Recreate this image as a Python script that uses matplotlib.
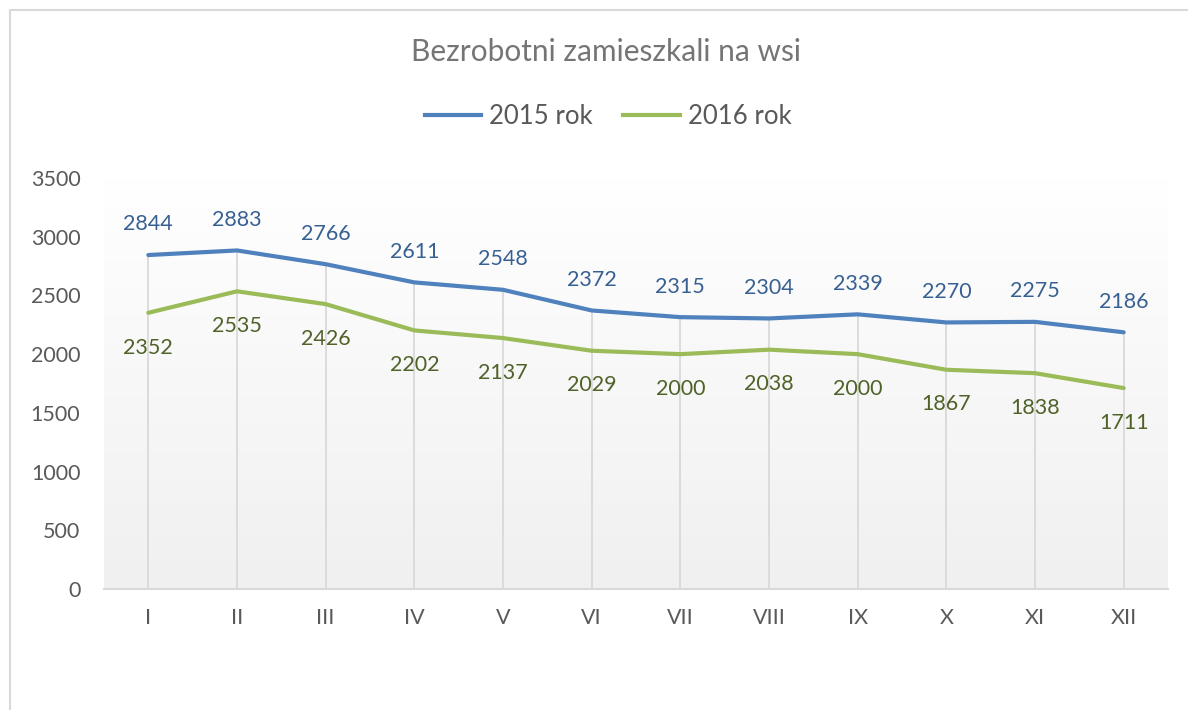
import numpy as np
import matplotlib
matplotlib.use("Agg")
import matplotlib.pyplot as plt
from matplotlib.lines import Line2D
from matplotlib.patches import Rectangle

months = ["I", "II", "III", "IV", "V", "VI", "VII", "VIII", "IX", "X", "XI", "XII"]
y2015 = [2844, 2883, 2766, 2611, 2548, 2372, 2315, 2304, 2339, 2270, 2275, 2186]
y2016 = [2352, 2535, 2426, 2202, 2137, 2029, 2000, 2038, 2000, 1867, 1838, 1711]
series_names = ["2015 rok", "2016 rok"]
yticks = [0, 500, 1000, 1500, 2000, 2500, 3000, 3500]

plt.rcParams['font.family'] = ['Lato', 'DejaVu Sans']

W, H = 1188, 710
fig = plt.figure(figsize=(W / 100, H / 100), dpi=100)

# outer chart border (cropped at right/bottom)
fig.add_artist(Rectangle((10 / W, -0.1), 1.2, 1 - 10 / H + 0.1, transform=fig.transFigure,
                         fill=False, edgecolor="#d9d9d9", lw=1.5))

left, right, bottom, top = 104 / W, 1168 / W, 1 - 589 / H, 1 - 178 / H
ax = fig.add_axes([left, bottom, right - left, top - bottom])

x = np.arange(len(months))

# gradient background
grad = np.linspace(1, 0, 256).reshape(-1, 1)
c_top = np.array([1.0, 1.0, 1.0])
c_bot = np.array([0xf0, 0xf0, 0xf0]) / 255
img = c_bot + (c_top - c_bot) * grad[..., None]
img = img.reshape(256, 1, 3)
ax.imshow(img, extent=[-0.5, len(months) - 0.5, 0, 3500], aspect='auto', origin='upper', zorder=0)
ax.set_xlim(-0.5, len(months) - 0.5)
ax.set_ylim(0, 3500)

# drop lines
tops = np.maximum(y2015, y2016)
ax.vlines(x, 0, tops, color="#d9d9d9", lw=1.3, zorder=1)

c15, c16 = "#4f81bd", "#9bbb59"
ax.plot(x, y2015, color=c15, lw=3, solid_capstyle='round', solid_joinstyle='round', zorder=3)
ax.plot(x, y2016, color=c16, lw=3, solid_capstyle='round', solid_joinstyle='round', zorder=3)

for xi, v in zip(x, y2015):
    ax.annotate(str(v), (xi, v), xytext=(0, 22), textcoords='offset points',
                ha='center', va='center', fontsize=15.5, color="#376092")
for xi, v in zip(x, y2016):
    ax.annotate(str(v), (xi, v), xytext=(0, -25), textcoords='offset points',
                ha='center', va='center', fontsize=15.5, color="#4f6228")

for s in ["top", "right", "left"]:
    ax.spines[s].set_visible(False)
ax.spines["bottom"].set_color("#d9d9d9")
ax.spines["bottom"].set_linewidth(1.5)

ax.set_xticks(x)
ax.set_xticklabels(months)
ax.set_yticks(yticks)
ax.tick_params(axis='both', length=0, labelsize=15.5, labelcolor="#595959")
ax.tick_params(axis='x', pad=14)
ax.tick_params(axis='y', pad=17)

fig.text(606 / W, 1 - 52 / H, "Bezrobotni zamieszkali na wsi", ha='center', va='center',
         fontsize=21.5, color="#757575")

handles = [Line2D([], [], color=c15, lw=3), Line2D([], [], color=c16, lw=3)]
leg = fig.legend(handles, series_names, loc='center', bbox_to_anchor=(608 / W, 1 - 116 / H),
                 ncol=2, frameon=False, fontsize=18.5, handlelength=2.2, handletextpad=0.3,
                 columnspacing=1.2)
for t in leg.get_texts():
    t.set_color("#595959")

fig.savefig("out.png", dpi=100)
